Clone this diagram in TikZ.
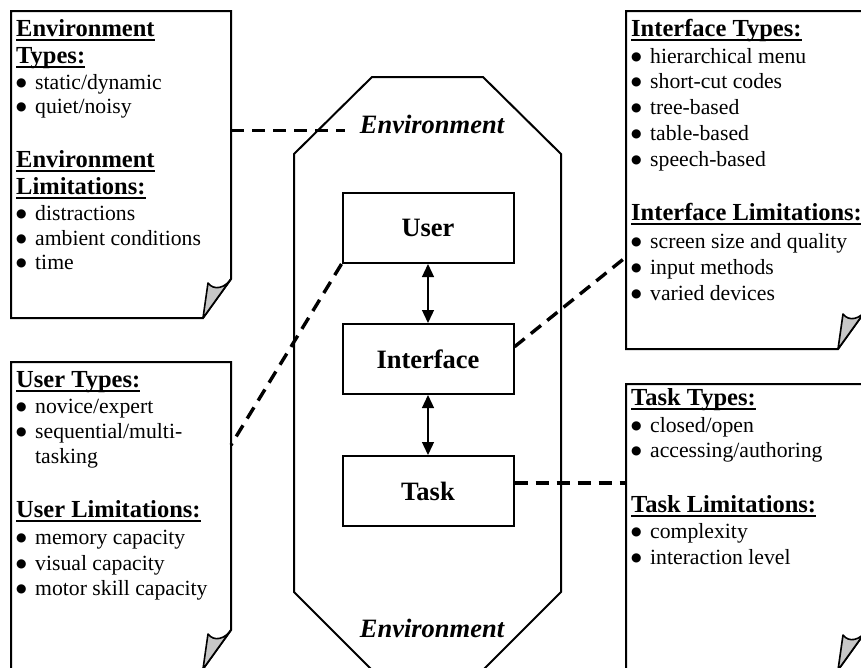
\documentclass[tikz,border=0pt]{standalone}
\usepackage{fontspec}
\setmainfont{Liberation Serif}
\newfontfamily\bulfont{DejaVu Sans}
\usetikzlibrary{arrows.meta,calc}

\newcommand\bodyfont{\fontsize{21.7pt}{24pt}\selectfont}
\newcommand\headfont{\fontsize{24.5pt}{28pt}\selectfont\bfseries}
\newcommand\boxfont{\fontsize{26.5pt}{30pt}\selectfont\bfseries}
\newcommand\hdrul[1]{\setbox0=\hbox{#1}\rlap{\rule[-4.5pt]{\wd0}{2pt}}\box0}
\newcommand\bul{\makebox[19pt][l]{\raisebox{2.8pt}{\bulfont\fontsize{12pt}{0pt}\selectfont ●}}}
\newcommand\drawnote[1]{%
  \draw[noteline] (#1.north west) -- (#1.north east) -- ([yshift=39pt]#1.south east)
     -- ([xshift=-28pt]#1.south east) -- (#1.south west) -- cycle;
  \draw[foldfill] ([yshift=39pt]#1.south east)
     .. controls ([xshift=-6pt,yshift=30pt]#1.south east) and ([xshift=-17pt,yshift=27pt]#1.south east)
     .. ([xshift=-23pt,yshift=35pt]#1.south east) -- ([xshift=-28pt]#1.south east) -- cycle;}

\begin{document}
\begin{tikzpicture}[x=1pt,y=-1pt,
  noteline/.style={draw=black,line width=2pt,fill=white,line join=miter},
  foldfill/.style={draw=black,line width=1.6pt,fill=black!22,line join=round},
  notearea/.style={inner sep=0pt,outer sep=0pt,anchor=north west},
  hdr/.style={anchor=base west,inner sep=0pt,font=\headfont},
  itm/.style={anchor=base west,inner sep=0pt,font=\bodyfont},
  compbox/.style={draw,line width=2pt,minimum width=171pt,minimum height=70pt,inner sep=0pt,font=\boxfont},
  envlabel/.style={inner sep=0pt,outer xsep=15pt,font=\boxfont\itshape,anchor=base},
  link/.style={line width=1.3pt,{Triangle[length=13pt,width=12pt]}-{Triangle[length=13pt,width=12pt]}},
  conn/.style={line width=3.4pt,dash pattern=on 13pt off 8pt}
]
\useasboundingbox (0,0) rectangle (861,667);
\clip (0,0) rectangle (861,667);

% environment octagon
\draw[line width=2pt,line join=miter] (372,77) -- (483,77) -- (561,154) -- (561,592) -- (483,670)
  -- (372,670) -- (294,592) -- (294,154) -- cycle;
\node[envlabel] (envtop) at (432,133) {Environment};
\node[envlabel] (envbot) at (432,637) {Environment};

% component boxes
\node[compbox] (user) at (428,228) {User};
\node[compbox] (iface) at (428,359) {Interface};
\node[compbox] (task) at (428,491) {Task};
\draw[link] (user.south) -- (iface.north);
\draw[link] (iface.south) -- (task.north);

% notes
\node[notearea,minimum width=220pt,minimum height=307pt] (envnote) at (11,11) {};
\node[notearea,minimum width=240pt,minimum height=338pt] (ifacenote) at (626,11) {};
\node[notearea,minimum width=220pt,minimum height=307pt] (usernote) at (11,362) {};
\node[notearea,minimum width=240pt,minimum height=286pt] (tasknote) at (626,384) {};
\drawnote{envnote}
\drawnote{ifacenote}
\drawnote{usernote}
\drawnote{tasknote}

% environment note text
\node[hdr] (e1) at (16,36) {\hdrul{Environment}};
\node[hdr] (e2) at (16,63) {\hdrul{Types:}};
\node[itm] (e3) at (16,89) {\bul static/dynamic};
\node[itm] (e4) at (16,113) {\bul quiet/noisy};
\node[hdr] (e5) at (16,167) {\hdrul{Environment}};
\node[hdr] (e6) at (16,194) {\hdrul{Limitations:}};
\node[itm] (e7) at (16,220) {\bul distractions};
\node[itm] (e8) at (16,245) {\bul ambient conditions};
\node[itm] (e9) at (16,269) {\bul time};

% interface note text
\node[hdr] (i1) at (631,36) {\hdrul{Interface Types:}};
\node[itm] (i2) at (631,63) {\bul hierarchical menu};
\node[itm] (i3) at (631,88) {\bul short-cut codes};
\node[itm] (i4) at (631,114) {\bul tree-based};
\node[itm] (i5) at (631,140) {\bul table-based};
\node[itm] (i6) at (631,166) {\bul speech-based};
\node[hdr] (i7) at (631,220) {\hdrul{Interface Limitations:}};
\node[itm] (i8) at (631,248) {\bul screen size and quality};
\node[itm] (i9) at (631,274) {\bul input methods};
\node[itm] (i10) at (631,300) {\bul varied devices};

% user note text
\node[hdr] (u1) at (16,387) {\hdrul{User Types:}};
\node[itm] (u2) at (16,413) {\bul novice/expert};
\node[itm] (u3) at (16,438) {\bul sequential/multi-};
\node[itm] (u4) at (35,463) {tasking};
\node[hdr] (u5) at (16,517) {\hdrul{User Limitations:}};
\node[itm] (u6) at (16,544) {\bul memory capacity};
\node[itm] (u7) at (16,570) {\bul visual capacity};
\node[itm] (u8) at (16,595) {\bul motor skill capacity};

% task note text
\node[hdr] (t1) at (631,405) {\hdrul{Task Types:}};
\node[itm] (t2) at (631,432) {\bul closed/open};
\node[itm] (t3) at (631,457) {\bul accessing/authoring};
\node[hdr] (t4) at (631,512) {\hdrul{Task Limitations:}};
\node[itm] (t5) at (631,538) {\bul complexity};
\node[itm] (t6) at (631,564) {\bul interaction level};

% dashed connectors
\coordinate (c1) at (231,130.5);
\coordinate (c2) at (231,445);
\coordinate (c3) at (626,257);
\coordinate (c4) at (626,483);
\draw[conn] (c1) -- (c1 -| envtop.west);
\draw[conn] (user.south west) -- (c2);
\draw[conn] ($(iface.north east)!0.33!(iface.south east)$) -- (c3);
\draw[conn] (c4 -| task.east) -- (c4);
\end{tikzpicture}
\end{document}
